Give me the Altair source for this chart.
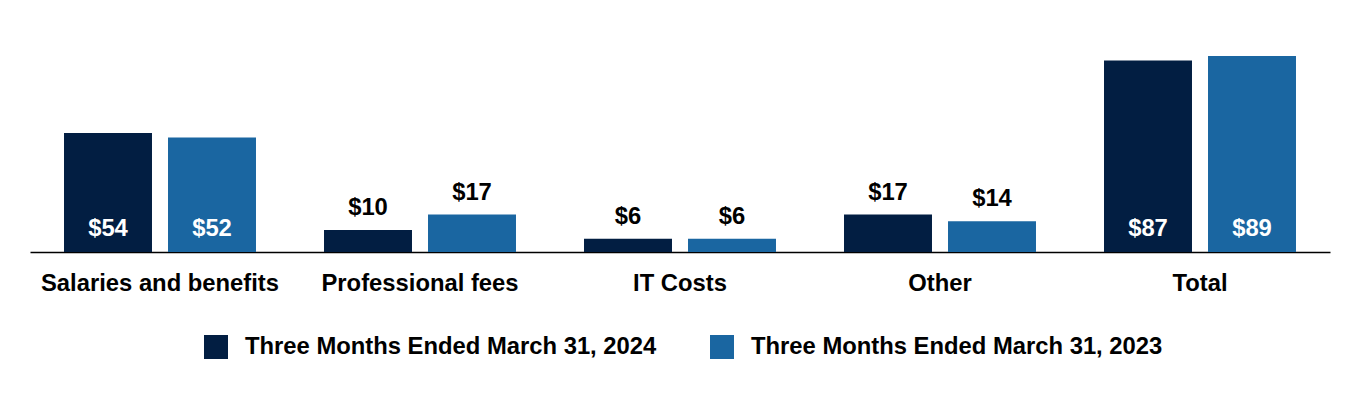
import altair as alt
import pandas as pd

categories = ["Salaries and benefits", "Professional fees", "IT Costs", "Other", "Total"]
series = ["Three Months Ended March 31, 2024", "Three Months Ended March 31, 2023"]
values_2024 = [54, 10, 6, 17, 87]
values_2023 = [52, 17, 6, 14, 89]
colors = ["#021E42", "#1A66A1"]

rows = []
for c, a, b in zip(categories, values_2024, values_2023):
    rows.append({"category": c, "series": series[0], "value": a})
    rows.append({"category": c, "series": series[1], "value": b})
df = pd.DataFrame(rows)

FONT = "Liberation Sans"
FS = 23.8

x = alt.X("category:N", sort=categories, title=None,
          scale=alt.Scale(paddingInner=0, paddingOuter=0),
          axis=alt.Axis(labelFont=FONT, labelFontSize=FS, labelFontWeight="bold",
                        labelColor="#000000", labelPadding=19, ticks=False, labelLimit=400,
                        domainColor="#000000", domainWidth=1.5, labelAngle=0))
xo = alt.XOffset("series:N", sort=series,
                 scale=alt.Scale(paddingInner=0.154, paddingOuter=0.327))
yscale = alt.Scale(domain=[0, 89], nice=False)

base = alt.Chart(df).transform_calculate(
    label="'$' + datum.value", zero="0"
)

bars = base.mark_bar().encode(
    x=x, xOffset=xo,
    y=alt.Y("value:Q", axis=None, scale=yscale),
    color=alt.Color("series:N", sort=series,
                    scale=alt.Scale(domain=series, range=colors),
                    legend=alt.Legend(title=None, orient="none", direction="horizontal",
                                      legendX=174, legendY=279,
                                      symbolType="square", symbolSize=576,
                                      symbolStrokeWidth=0, labelFont=FONT,
                                      labelFontSize=FS, labelFontWeight="bold",
                                      labelColor="#000000", columnPadding=53,
                                      labelLimit=600, labelOffset=17)),
)

inside = base.transform_filter("datum.value > 30").mark_text(
    font=FONT, fontSize=FS, fontWeight="bold", color="#FFFFFF", baseline="middle", dy=-23
).encode(x=x, xOffset=xo, y=alt.Y("zero:Q", axis=None, scale=yscale), text="label:N")

above = base.transform_filter("datum.value <= 30").mark_text(
    font=FONT, fontSize=FS, fontWeight="bold", color="#000000", baseline="middle", dy=-22
).encode(x=x, xOffset=xo, y=alt.Y("value:Q", axis=None, scale=yscale), text="label:N")

chart = alt.layer(bars, inside, above).properties(
    width=1300, height=196,
    padding={"left": 22, "top": 48, "right": 10, "bottom": 10},
    background="#FFFFFF",
).configure_view(stroke=None)

chart.save("out.html", embed_options={"renderer": "svg", "actions": False})
